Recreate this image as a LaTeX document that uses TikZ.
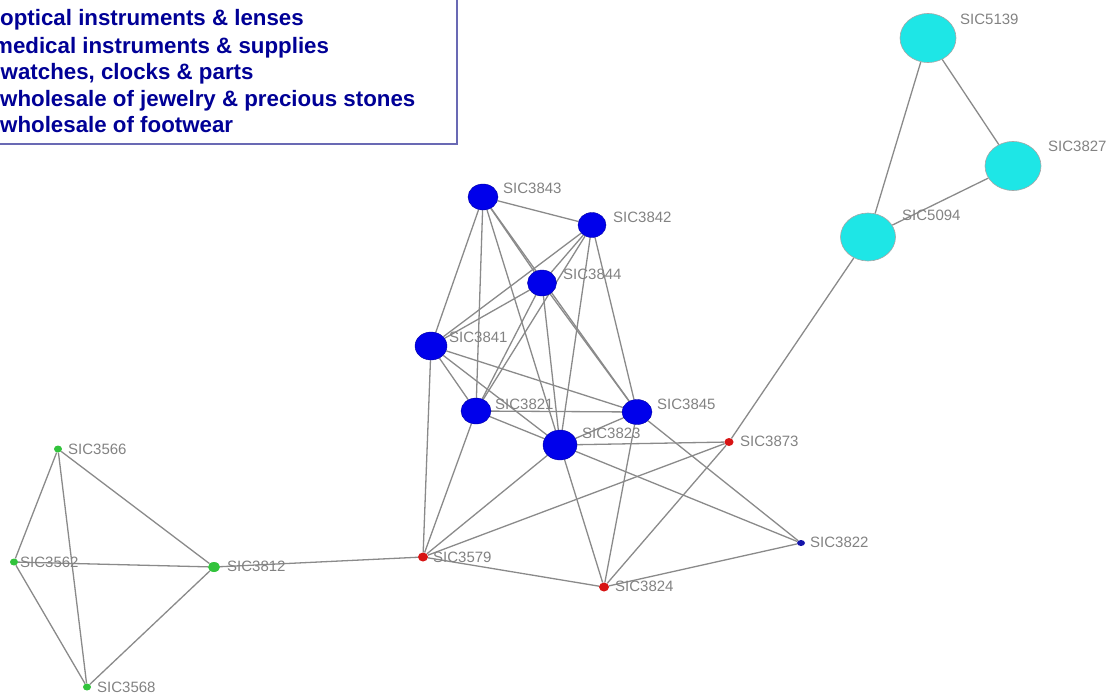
\documentclass[tikz,border=0pt]{standalone}
\usepackage{fontspec}
\setmainfont{Liberation Sans}
\usetikzlibrary{shapes.geometric,backgrounds}

\definecolor{edgegray}{RGB}{138,138,138}
\definecolor{labgray}{RGB}{130,130,130}
\definecolor{legendblue}{RGB}{0,0,150}
\definecolor{legendframe}{RGB}{105,105,180}
\definecolor{cyannode}{RGB}{30,230,230}
\definecolor{bluenode}{RGB}{0,0,235}
\definecolor{rednode}{RGB}{215,20,20}
\definecolor{greennode}{RGB}{50,195,60}
\definecolor{navynode}{RGB}{20,20,170}

\tikzset{
  big/.style={ellipse, inner sep=0pt, fill=cyannode, draw=gray!70, line width=0.6pt,
              minimum width=56pt, minimum height=49pt},
  mid/.style={ellipse, inner sep=0pt, fill=bluenode, draw=bluenode!70!black, line width=0.4pt,
              minimum width=29pt, minimum height=25pt},
  dot/.style={ellipse, inner sep=0pt, minimum width=9pt, minimum height=8pt},
  reddot/.style={dot, fill=rednode},
  greendot/.style={dot, fill=greennode},
  navydot/.style={dot, fill=navynode, minimum width=8pt, minimum height=6pt},
  lab/.style={anchor=west, inner sep=0pt, text=labgray, font=\fontsize{15}{15}\selectfont},
  legendline/.style={anchor=base west, inner sep=0pt, text=legendblue,
              font=\fontsize{22.3}{26}\selectfont\bfseries},
  link/.style={draw=edgegray, line width=1.3pt},
}

\begin{document}
\begin{tikzpicture}[x=1pt, y=-1pt]
\clip (0,0) rectangle (1110,693);

% legend box, running off the top left corner
\node[draw=legendframe, line width=2pt, fill=white, inner sep=0pt, anchor=south east,
      minimum width=480pt, minimum height=170pt] (legend) at (457.5,144.5) {};
\node[legendline] (lg1) at (0,26)   {optical instruments \& lenses};
\node[legendline] (lg2) at (-7,53)  {medical instruments \& supplies};
\node[legendline] (lg3) at (0.5,79) {watches, clocks \& parts};
\node[legendline] (lg4) at (0,106)  {wholesale of jewelry \& precious stones};
\node[legendline] (lg5) at (0,132)  {wholesale of footwear};

% wholesale / optics group
\node[big] (n5139) at (928,38)  {};
\node[big] (n3827) at (1013,166) {};
\node[big, minimum width=55pt, minimum height=48pt] (n5094) at (868,237) {};

% instruments core
\node[mid, minimum width=30pt, minimum height=26pt] (n3843) at (483,197) {};
\node[mid, minimum width=28pt, minimum height=25pt] (n3842) at (592,225) {};
\node[mid, minimum width=29pt, minimum height=26pt] (n3844) at (542,283) {};
\node[mid, minimum width=32pt, minimum height=28pt] (n3841) at (431,346) {};
\node[mid, minimum width=30pt, minimum height=26pt] (n3821) at (476,411) {};
\node[mid, minimum width=30pt, minimum height=25pt] (n3845) at (637,412) {};
\node[mid, minimum width=34pt, minimum height=30pt] (n3823) at (560,445) {};

% small nodes
\node[reddot] (n3873) at (729,442) {};
\node[reddot, minimum width=10pt, minimum height=9pt] (n3579) at (423,557) {};
\node[reddot, minimum width=10pt, minimum height=9pt] (n3824) at (604,587) {};
\node[navydot] (n3822) at (801,543) {};
\node[greendot, minimum width=12pt, minimum height=10pt] (n3812) at (214,567) {};
\node[greendot, minimum width=8pt, minimum height=7pt] (n3566) at (58,449) {};
\node[greendot, minimum width=8pt, minimum height=7pt] (n3562) at (14,562) {};
\node[greendot, minimum width=8pt, minimum height=7pt] (n3568) at (87,687) {};

% node labels
\node[lab] (l5139) at (960,19)   {SIC5139};
\node[lab] (l3827) at (1048,146) {SIC3827};
\node[lab] (l5094) at (902,215)  {SIC5094};
\node[lab] (l3843) at (503,188)  {SIC3843};
\node[lab] (l3842) at (613,217)  {SIC3842};
\node[lab] (l3844) at (563,274)  {SIC3844};
\node[lab] (l3841) at (449,337)  {SIC3841};
\node[lab] (l3821) at (495,404)  {SIC3821};
\node[lab] (l3845) at (657,404)  {SIC3845};
\node[lab] (l3823) at (582,433)  {SIC3823};
\node[lab] (l3873) at (740,441)  {SIC3873};
\node[lab] (l3822) at (810,542)  {SIC3822};
\node[lab] (l3579) at (433,557)  {SIC3579};
\node[lab] (l3824) at (615,586)  {SIC3824};
\node[lab] (l3812) at (227,566)  {SIC3812};
\node[lab] (l3566) at (68,449)   {SIC3566};
\node[lab] (l3562) at (20,562)   {SIC3562};
\node[lab] (l3568) at (97,687)   {SIC3568};

\begin{pgfonlayer}{background}
  % green group
  \draw[link] (n3566) -- (n3562);
  \draw[link] (n3566) -- (n3568);
  \draw[link] (n3566) -- (n3812);
  \draw[link] (n3562) -- (n3812);
  \draw[link] (n3562) -- (n3568);
  \draw[link] (n3568) -- (n3812);
  \draw[link] (n3812) -- (n3579);
  % cyan group
  \draw[link] (n5139) -- (n3827);
  \draw[link] (n5139) -- (n5094);
  \draw[link] (n3827) -- (n5094);
  \draw[link] (n5094) -- (n3873);
  % blue core
  \draw[link] (n3843) -- (n3842);
  \draw[link] (n3843) -- (n3841);
  \draw[link] (n3843) -- (n3821);
  \draw[link] (n3843) -- (n3823);
  \draw[link] (n3843) -- (n3844);
  \draw[link] (n3843) -- (n3845);
  \draw[link] (n3844) -- (n3845);
  \draw[link] (n3842) -- (n3844);
  \draw[link] (n3842) -- (n3841);
  \draw[link] (n3842) -- (n3821);
  \draw[link] (n3842) -- (n3823);
  \draw[link] (n3842) -- (n3845);
  \draw[link] (n3844) -- (n3841);
  \draw[link] (n3844) -- (n3821);
  \draw[link] (n3844) -- (n3823);
  \draw[link] (n3841) -- (n3821);
  \draw[link] (n3841) -- (n3823);
  \draw[link] (n3841) -- (n3845);
  \draw[link] (n3821) -- (n3845);
  \draw[link] (n3821) -- (n3823);
  \draw[link] (n3845) -- (n3823);
  % links to the small nodes
  \draw[link] (n3823) -- (n3873);
  \draw[link] (n3823) -- (n3822);
  \draw[link] (n3823) -- (n3824);
  \draw[link] (n3823) -- (n3579);
  \draw[link] (n3845) -- (n3822);
  \draw[link] (n3845) -- (n3824);
  \draw[link] (n3821) -- (n3579);
  \draw[link] (n3841) -- (n3579);
  \draw[link] (n3873) -- (n3579);
  \draw[link] (n3873) -- (n3824);
  \draw[link] (n3824) -- (n3579);
  \draw[link] (n3824) -- (n3822);
\end{pgfonlayer}
\end{tikzpicture}
\end{document}
